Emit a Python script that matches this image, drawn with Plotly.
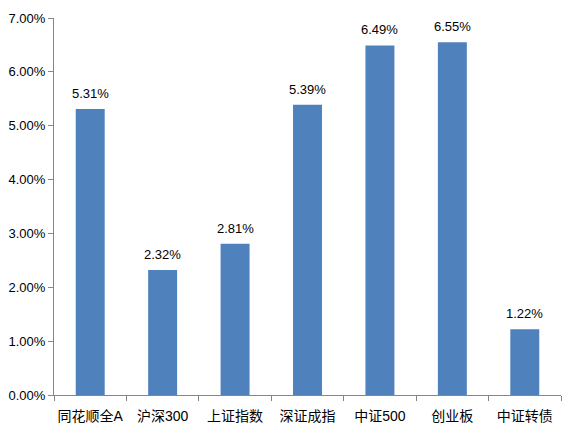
import plotly.graph_objects as go

categories = ["同花顺全A", "沪深300", "上证指数", "深证成指", "中证500", "创业板", "中证转债"]
values = [5.31, 2.32, 2.81, 5.39, 6.49, 6.55, 1.22]
labels = [f"{v:.2f}%" for v in values]
yticks = [0, 1, 2, 3, 4, 5, 6, 7]
yticktext = [f"{v:.2f}%" for v in yticks]

font_family = "Liberation Sans, Noto Sans CJK SC, sans-serif"

fig = go.Figure(go.Bar(
    x=categories, y=values,
    marker=dict(color="#4F81BD", line=dict(width=0)),
))

for c, v, t in zip(categories, values, labels):
    fig.add_annotation(
        x=c, y=v, text=t, showarrow=False, yanchor="bottom", yshift=6,
        font=dict(size=13, color="#000000", family=font_family),
    )

fig.update_layout(
    width=568, height=435,
    margin=dict(l=54, r=7, t=18, b=40),
    paper_bgcolor="white", plot_bgcolor="white",
    bargap=0.6,
    showlegend=False,
    font=dict(family=font_family, size=12, color="#000000"),
)
fig.update_xaxes(
    showline=True, linecolor="#868686", linewidth=1,
    ticks="outside", ticklen=5, tickcolor="#868686", tickson="boundaries",
    showgrid=False, tickfont=dict(size=14), ticklabelstandoff=8,
    tickangle=0, automargin=False,
)
fig.update_yaxes(
    range=[0, 7], tickvals=yticks, ticktext=yticktext,
    showline=True, linecolor="#868686", linewidth=1,
    ticks="outside", ticklen=5, tickcolor="#868686",
    showgrid=False, zeroline=False, tickfont=dict(size=13),
    automargin=False,
)
fig.write_html(
    "out.html",
    config={"displayModeBar": False},
    post_script="document.body.style.margin='0';document.body.style.overflow='hidden';",
)
